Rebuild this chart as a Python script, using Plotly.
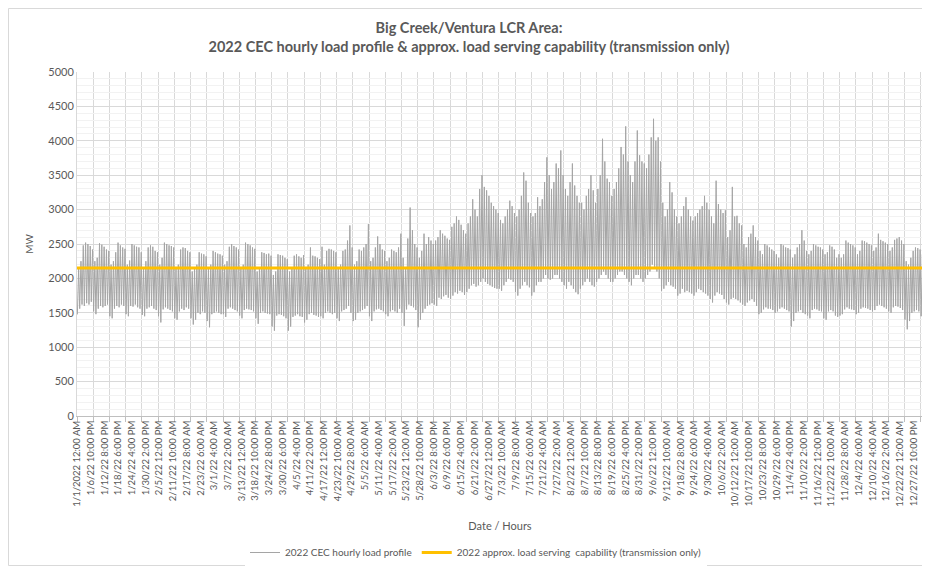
import plotly.graph_objects as go

# ---- Data: daily peak / trough (MW), grouped by week (weeks start Saturday 1/1/2022)
peak_by_week = [
    [2150, 2250, 2480, 2520, 2500, 2470, 2420],
    [2250, 2300, 2510, 2490, 2460, 2420, 2400],
    [2200, 2250, 2380, 2520, 2480, 2450, 2430],
    [2200, 2260, 2500, 2480, 2460, 2450, 2380],
    [2150, 2250, 2450, 2480, 2460, 2400, 2380],
    [2200, 2300, 2520, 2500, 2480, 2470, 2450],
    [2150, 2200, 2420, 2450, 2440, 2400, 2380],
    [2100, 2150, 2200, 2380, 2360, 2350, 2320],
    [2150, 2200, 2400, 2380, 2360, 2350, 2330],
    [2200, 2250, 2460, 2500, 2470, 2450, 2420],
    [2150, 2200, 2520, 2500, 2480, 2450, 2430],
    [2100, 2150, 2380, 2370, 2350, 2360, 2330],
    [2050, 2100, 2350, 2340, 2330, 2300, 2280],
    [2100, 2150, 2330, 2350, 2320, 2300, 2340],
    [2150, 2200, 2450, 2330, 2320, 2300, 2280],
    [2460, 2200, 2400, 2430, 2420, 2400, 2380],
    [2150, 2200, 2400, 2420, 2550, 2770, 2450],
    [2200, 2250, 2420, 2400, 2450, 2500, 2790],
    [2250, 2300, 2450, 2610, 2500, 2420, 2400],
    [2250, 2300, 2420, 2400, 2380, 2450, 2650],
    [2300, 2150, 2580, 3030, 2700, 2500, 2450],
    [2300, 2400, 2650, 2500, 2600, 2550, 2500],
    [2550, 2600, 2700, 2650, 2620, 2580, 2560],
    [2750, 2800, 2900, 2850, 2780, 2700, 2650],
    [2800, 2900, 3150, 3000, 2900, 3300, 3500],
    [3330, 3280, 3200, 3100, 3050, 3000, 2950],
    [2850, 2800, 2900, 3000, 3130, 3050, 2950],
    [2900, 3000, 3200, 3540, 3420, 3100, 2950],
    [2900, 2950, 3180, 3050, 3150, 3400, 3760],
    [3500, 3300, 3400, 3670, 3600, 3860, 3500],
    [3300, 3200, 3400, 3670, 3350, 3200, 3100],
    [3100, 3000, 3200, 3300, 3500, 3280, 3100],
    [3300, 3500, 4030, 3700, 3450, 3400, 3200],
    [3300, 3400, 3600, 3910, 3800, 4210, 3700],
    [3500, 3400, 3700, 4150, 3790, 3700, 3670],
    [3600, 3800, 4050, 4320, 4000, 4050, 3700],
    [3100, 2900, 3000, 3400, 3250, 3000, 2900],
    [2800, 2900, 3050, 3180, 3000, 2900, 2840],
    [2900, 2950, 3000, 3050, 3200, 3100, 3000],
    [2900, 2800, 3420, 3080, 3000, 2950, 2990],
    [2600, 2700, 3330, 2900, 2910, 2800, 2770],
    [2500, 2450, 2600, 2650, 2770, 2600, 2550],
    [2400, 2350, 2500, 2480, 2450, 2420, 2400],
    [2350, 2300, 2500, 2480, 2450, 2440, 2420],
    [2300, 2350, 2450, 2500, 2700, 2550, 2400],
    [2350, 2400, 2500, 2480, 2460, 2450, 2420],
    [2350, 2380, 2480, 2460, 2420, 2300, 2350],
    [2300, 2350, 2550, 2520, 2500, 2480, 2450],
    [2350, 2400, 2550, 2540, 2520, 2500, 2480],
    [2400, 2450, 2650, 2560, 2540, 2520, 2500],
    [2400, 2450, 2560, 2580, 2600, 2550, 2500],
    [2250, 2200, 2300, 2400, 2450, 2440, 2420],
    [2350],
]
trough_by_week = [
    [1480, 1560, 1620, 1600, 1640, 1620, 1660],
    [1520, 1480, 1560, 1600, 1580, 1600, 1620],
    [1450, 1420, 1560, 1600, 1580, 1620, 1600],
    [1480, 1450, 1600, 1590, 1620, 1580, 1560],
    [1470, 1450, 1560, 1580, 1600, 1560, 1540],
    [1450, 1360, 1550, 1580, 1560, 1540, 1520],
    [1420, 1400, 1520, 1560, 1540, 1580, 1560],
    [1420, 1330, 1400, 1500, 1480, 1520, 1500],
    [1380, 1290, 1480, 1500, 1520, 1500, 1480],
    [1480, 1440, 1560, 1580, 1560, 1540, 1520],
    [1460, 1420, 1540, 1560, 1550, 1540, 1520],
    [1420, 1340, 1500, 1520, 1500, 1490, 1480],
    [1300, 1240, 1460, 1480, 1470, 1450, 1420],
    [1240, 1300, 1440, 1460, 1480, 1450, 1440],
    [1360, 1400, 1480, 1500, 1470, 1460, 1440],
    [1450, 1420, 1500, 1520, 1500, 1480, 1500],
    [1420, 1380, 1520, 1540, 1560, 1600, 1500],
    [1380, 1400, 1500, 1520, 1540, 1560, 1600],
    [1450, 1380, 1520, 1550, 1560, 1540, 1520],
    [1480, 1450, 1520, 1540, 1520, 1500, 1560],
    [1500, 1310, 1550, 1620, 1600, 1580, 1540],
    [1290, 1400, 1500, 1560, 1600, 1620, 1640],
    [1620, 1600, 1720, 1700, 1740, 1760, 1720],
    [1700, 1750, 1800, 1780, 1820, 1800, 1760],
    [1800, 1850, 1900, 1920, 1880, 1900, 1950],
    [2000, 1950, 1920, 1900, 1880, 1860, 1850],
    [1850, 1820, 1900, 1950, 2000, 1980, 1950],
    [1800, 1750, 1850, 1900, 1950, 1900, 1870],
    [1750, 1800, 1900, 1950, 1950, 2000, 2050],
    [2000, 1980, 2000, 2050, 2050, 2000, 1950],
    [1900, 1850, 1950, 1900, 1850, 1800, 1770],
    [1850, 1900, 1950, 2000, 1950, 1900, 1880],
    [1950, 2000, 2050, 2100, 2050, 2000, 1950],
    [1950, 2000, 2050, 2100, 2100, 2050, 2000],
    [1950, 1900, 2000, 2050, 2050, 2000, 1950],
    [2000, 2050, 2100, 2200, 2150, 2100, 2000],
    [1820, 1850, 1900, 1950, 1900, 1880, 1850],
    [1750, 1780, 1850, 1800, 1820, 1800, 1780],
    [1750, 1800, 1850, 1830, 1800, 1780, 1750],
    [1700, 1650, 1750, 1800, 1780, 1760, 1700],
    [1650, 1620, 1700, 1720, 1700, 1680, 1650],
    [1620, 1600, 1650, 1680, 1700, 1660, 1600],
    [1480, 1500, 1550, 1580, 1560, 1560, 1540],
    [1500, 1520, 1560, 1580, 1560, 1540, 1520],
    [1300, 1380, 1500, 1520, 1540, 1500, 1480],
    [1460, 1420, 1540, 1560, 1550, 1530, 1520],
    [1420, 1400, 1520, 1540, 1520, 1460, 1440],
    [1460, 1480, 1550, 1580, 1560, 1550, 1540],
    [1480, 1500, 1560, 1580, 1570, 1560, 1540],
    [1520, 1540, 1600, 1620, 1600, 1580, 1560],
    [1520, 1500, 1580, 1600, 1590, 1570, 1540],
    [1400, 1260, 1380, 1500, 1520, 1540, 1520],
    [1450],
]
capability_mw = 2150

tick_labels = [
    "1/1/2022 12:00 AM", "1/6/22 10:00 PM", "1/12/22 8:00 PM", "1/18/22 6:00 PM", "1/24/22 4:00 PM",
    "1/30/22 2:00 PM", "2/5/22 12:00 PM", "2/11/22 10:00 AM", "2/17/22 8:00 AM", "2/23/22 6:00 AM",
    "3/1/22 4:00 AM", "3/7/22 2:00 AM", "3/13/22 12:00 AM", "3/18/22 10:00 PM", "3/24/22 8:00 PM",
    "3/30/22 6:00 PM", "4/5/22 4:00 PM", "4/11/22 2:00 PM", "4/17/22 12:00 PM", "4/23/22 10:00 AM",
    "4/29/22 8:00 AM", "5/5/22 6:00 AM", "5/11/22 4:00 AM", "5/17/22 2:00 AM", "5/23/22 12:00 AM",
    "5/28/22 10:00 PM", "6/3/22 8:00 PM", "6/9/22 6:00 PM", "6/15/22 4:00 PM", "6/21/22 2:00 PM",
    "6/27/22 12:00 PM", "7/3/22 10:00 AM", "7/9/22 8:00 AM", "7/15/22 6:00 AM", "7/21/22 4:00 AM",
    "7/27/22 2:00 AM", "8/2/22 12:00 AM", "8/7/22 10:00 PM", "8/13/22 8:00 PM", "8/19/22 6:00 PM",
    "8/25/22 4:00 PM", "8/31/22 2:00 PM", "9/6/22 12:00 PM", "9/12/22 10:00 AM", "9/18/22 8:00 AM",
    "9/24/22 6:00 AM", "9/30/22 4:00 AM", "10/6/22 2:00 AM", "10/12/22 12:00 AM", "10/17/22 10:00 PM",
    "10/23/22 8:00 PM", "10/29/22 6:00 PM", "11/4/22 4:00 PM", "11/10/22 2:00 PM", "11/16/22 12:00 PM",
    "11/22/22 10:00 AM", "11/28/22 8:00 AM", "12/4/22 6:00 AM", "12/10/22 4:00 AM", "12/16/22 2:00 AM",
    "12/22/22 12:00 AM", "12/27/22 10:00 PM",
]
HOURS = 8760
LABEL_STEP = 142
GRID_STEP = 168
TROUGH_HOUR = 4
PEAK_HOUR = 17

# ---- Build hourly-indexed series (trough & peak hour of each day)
daily_peak = [v for w in peak_by_week for v in w]
daily_trough = [v for w in trough_by_week for v in w]
xs, ys = [], []
for d, (lo, hi) in enumerate(zip(daily_trough, daily_peak)):
    xs += [24 * d + TROUGH_HOUR, 24 * d + PEAK_HOUR]
    ys += [lo, hi]
xs = [0] + xs + [HOURS - 1]
ys = [daily_trough[0]] + ys + [daily_trough[-1]]

font_family = "Lato, 'Open Sans', sans-serif"
txt = "#595959"

# page body adds an 8px offset; figure sized to fit the 930x567 window
W, H = 922, 559
ML, MR, MT, MB = 69, 7, 64, 151
PW, PH = W - ML - MR, H - MT - MB

fig = go.Figure()
fig.add_trace(go.Scatter(
    x=xs, y=ys, mode="lines", name="2022 CEC hourly load profile",
    line=dict(color="#A5A5A5", width=1), hoverinfo="skip"))
fig.add_trace(go.Scatter(
    x=[0, HOURS - 1], y=[capability_mw, capability_mw], mode="lines",
    name="2022 approx. load serving  capability (transmission only)",
    line=dict(color="#FFC000", width=3)))

fig.update_layout(
    width=W, height=H,
    margin=dict(l=ML, r=MR, t=MT, b=MB, autoexpand=False),
    paper_bgcolor="white", plot_bgcolor="white",
    font=dict(family=font_family, color=txt, size=10),
    title=dict(
        text="<b>Big Creek/Ventura LCR Area:</b><br><b>2022 CEC hourly load profile &amp; approx. load serving capability (transmission only)</b>",
        x=0.5, xanchor="center", y=1 - 25 / H, yanchor="top",
        font=dict(size=14.5, color=txt, family=font_family)),
    showlegend=True,
    legend=dict(orientation="h", x=(468 - ML) / PW, xanchor="center", y=-122 / PH, yanchor="top",
                font=dict(size=10, color=txt), itemwidth=30, tracegroupgap=0),
    xaxis=dict(
        range=[0, HOURS - 1], automargin=False,
        tickmode="array",
        tickvals=[LABEL_STEP * i for i in range(len(tick_labels))],
        ticktext=tick_labels,
        tickangle=-90, ticks="", showgrid=False, zeroline=False,
        showline=True, linecolor="#BFBFBF", linewidth=1,
        tickfont=dict(size=9.5, color=txt),
        minor=dict(tickmode="array", tickvals=list(range(0, HOURS, GRID_STEP)),
                   showgrid=True, gridcolor="#D9D9D9", gridwidth=1,
                   ticks="outside", ticklen=5, tickcolor="#BFBFBF"),
        title=dict(text="Date / Hours", font=dict(size=11, color=txt), standoff=16),
    ),
    yaxis=dict(
        range=[0, 5000], dtick=500, tick0=0, automargin=False,
        showgrid=True, gridcolor="#D9D9D9", gridwidth=1, zeroline=False,
        showline=True, linecolor="#D9D9D9",
        ticks="", tickfont=dict(size=11, color=txt),
        minor=dict(dtick=100, showgrid=True, gridcolor="#F2F2F2", gridwidth=1),
        title=dict(text="MW", font=dict(size=10, color=txt), standoff=12),
    ),
)

# light chart-area border
fig.add_shape(type="rect", xref="paper", yref="paper",
              x0=-(ML - 0.5) / PW, x1=1 + (MR - 1.5) / PW,
              y0=-(MB - 1.5) / PH, y1=1 + (MT - 0.5) / PH,
              line=dict(color="#D9D9D9", width=1), fillcolor="rgba(0,0,0,0)", layer="below")

fig.write_html("out.html")
